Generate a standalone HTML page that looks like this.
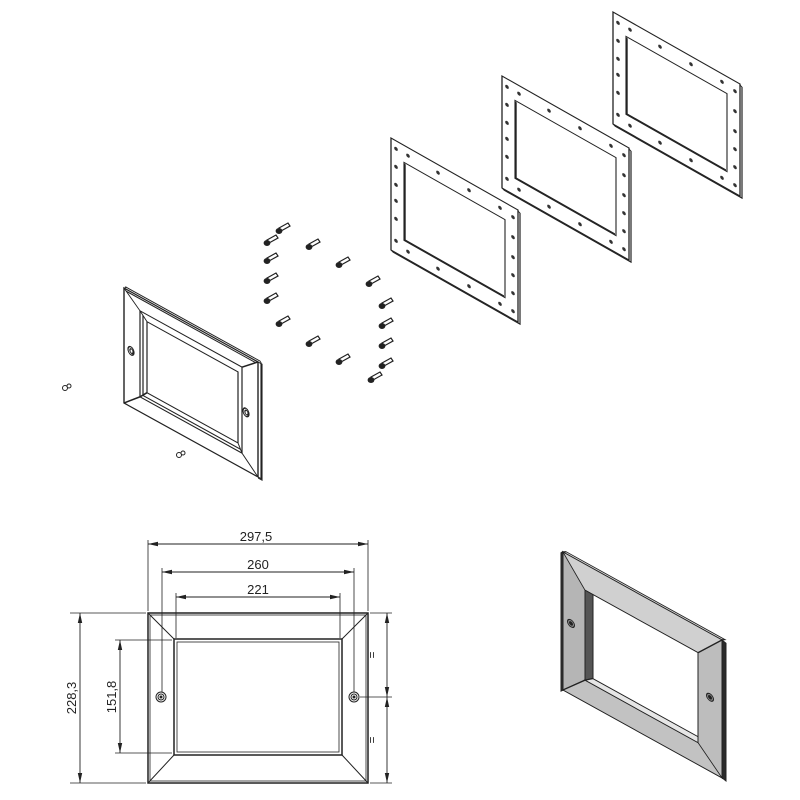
<!DOCTYPE html>
<html><head><meta charset="utf-8"><style>
html,body{margin:0;padding:0;background:#fff;}
svg{display:block;}
text{font-family:"Liberation Sans",sans-serif;fill:#222;}
</style></head><body>
<svg width="800" height="800" viewBox="0 0 800 800" xmlns="http://www.w3.org/2000/svg">
<defs>
  <marker id="ar" markerWidth="10" markerHeight="6" refX="10" refY="3" orient="auto-start-reverse" markerUnits="userSpaceOnUse">
    <path d="M0,0.8 L10,3 L0,5.2 Z" fill="#222"/>
  </marker>
  <g id="gasket">
    <path d="M0,0 L127,0 L127,112 L0,112 Z" fill="#fff" stroke="#222" stroke-width="1.3"/>
    <path d="M127,1 L129,2 L129,113 L2,113 L0,112" fill="none" stroke="#222" stroke-width="1.2"/>
    <path d="M13,17 L114,17 L114,95 L13,95 Z" fill="none" stroke="#222" stroke-width="1.1"/>
    <path d="M14,18 L14,94 L113,94" fill="none" stroke="#222" stroke-width="1.4"/>
    <g fill="#333">
      <circle cx="5" cy="8" r="1.8"/><circle cx="5" cy="26" r="1.8"/><circle cx="5" cy="44" r="1.8"/>
      <circle cx="5" cy="60" r="1.8"/><circle cx="5" cy="78" r="1.8"/><circle cx="5" cy="100" r="1.8"/>
      <circle cx="122" cy="10" r="1.8"/><circle cx="122" cy="30" r="1.8"/><circle cx="122" cy="50" r="1.8"/>
      <circle cx="122" cy="68" r="1.8"/><circle cx="122" cy="86" r="1.8"/><circle cx="122" cy="104" r="1.8"/>
      <circle cx="17" cy="8" r="1.8"/><circle cx="47" cy="8" r="1.8"/><circle cx="78" cy="8" r="1.8"/><circle cx="109" cy="8" r="1.8"/>
      <circle cx="17" cy="104" r="1.8"/><circle cx="47" cy="104" r="1.8"/><circle cx="78" cy="104" r="1.8"/><circle cx="109" cy="104" r="1.8"/>
    </g>
  </g>
  <g id="screw">
    <path d="M-1,-2 L8,-7 L10,-4 L1,1 Z" fill="#fff" stroke="#222" stroke-width="1.2"/>
    <ellipse cx="-1" cy="1" rx="3.4" ry="3" fill="#222"/>
  </g>
</defs>

<use href="#gasket" transform="matrix(1,0.567,0,1,613,12)"/>
<use href="#gasket" transform="matrix(1,0.567,0,1,502,76)"/>
<use href="#gasket" transform="matrix(1,0.567,0,1,391,138)"/>

<g>
<use href="#screw" x="280" y="230"/><use href="#screw" x="268" y="242"/><use href="#screw" x="268" y="260"/>
<use href="#screw" x="268" y="280"/><use href="#screw" x="268" y="300"/><use href="#screw" x="280" y="323"/>
<use href="#screw" x="310" y="246"/><use href="#screw" x="340" y="264"/><use href="#screw" x="370" y="283"/>
<use href="#screw" x="383" y="305"/><use href="#screw" x="383" y="325"/><use href="#screw" x="383" y="345"/>
<use href="#screw" x="383" y="365"/><use href="#screw" x="372" y="379"/><use href="#screw" x="340" y="361"/>
<use href="#screw" x="310" y="343"/>
</g>
<g fill="#fff" stroke="#222" stroke-width="1">
<circle cx="65" cy="388" r="2.5"/><circle cx="69" cy="386" r="2"/>
<circle cx="179" cy="455" r="2.5"/><circle cx="183" cy="453" r="2"/>
</g>

<g transform="matrix(1,0.552,0,1,124,288)" fill="none" stroke="#222" stroke-width="1.2">
  <path d="M0,0 L134,0 L134,115 L0,115 Z" fill="#fff" stroke-width="1.4"/>
  <path d="M1,-1 L2,-2 L136,-2 L137,-1 L137,115 L134,115" stroke-width="1.1"/>
  <path d="M134,0 L138,0 L138,116 L134,116" stroke-width="1.1"/>
  <path d="M2,2 L132,2"/>
  <path d="M0,0 L16,14 L118,14 L134,0 M16,14 L16,100 L118,100 L118,14 M0,115 L16,100 M134,115 L118,100"/>
  <path d="M16,14 L23,21 L114,21 L114,92 L23,92 L23,21 M16,100 L23,92 M118,100 L114,92"/>
  <path d="M19,17 L19,97 L116,97"/>
  <ellipse cx="7" cy="59" rx="3" ry="4"/><ellipse cx="7.5" cy="59" rx="1.6" ry="2.2"/>
  <ellipse cx="122" cy="57" rx="3" ry="4"/><ellipse cx="122.5" cy="57" rx="1.6" ry="2.2"/>
</g>

<g fill="none" stroke="#222">
  <rect x="148" y="613" width="220" height="170" stroke-width="1.5"/>
  <rect x="150" y="615" width="216" height="166" stroke-width="0.8"/>
  <rect x="174" y="639" width="168" height="116" stroke-width="1.5"/>
  <rect x="177" y="642" width="162" height="110" stroke-width="0.8"/>
  <path d="M148,613 L174,639 M368,613 L342,639 M148,783 L174,755 M368,783 L342,755" stroke-width="1"/>
  <circle cx="161" cy="697" r="5" stroke-width="1"/><circle cx="161" cy="697" r="3" stroke-width="1"/><circle cx="161" cy="697" r="1" fill="#222"/>
  <circle cx="354" cy="697" r="5" stroke-width="1"/><circle cx="354" cy="697" r="3" stroke-width="1"/><circle cx="354" cy="697" r="1" fill="#222"/>
  <g stroke-width="0.8">
    <path d="M148,540 L148,611 M368,540 L368,611 M162,568 L162,692 M354,568 L354,692 M176,593 L176,638 M340,593 L340,638"/>
    <path d="M70,613 L146,613 M70,783 L146,783 M115,640 L172,640 M115,753 L172,753"/>
    <path d="M370,613 L392,613 M360,697 L392,697 M370,783 L392,783"/>
  </g>
  <g stroke-width="0.9" marker-start="url(#ar)" marker-end="url(#ar)">
    <line x1="148" y1="544" x2="368" y2="544"/>
    <line x1="162" y1="572" x2="354" y2="572"/>
    <line x1="176" y1="597" x2="340" y2="597"/>
    <line x1="80" y1="613" x2="80" y2="783"/>
    <line x1="120" y1="640" x2="120" y2="753"/>
    <line x1="387" y1="613" x2="387" y2="697"/>
    <line x1="387" y1="697" x2="387" y2="783"/>
  </g>
</g>
<text x="256" y="541" font-size="13" text-anchor="middle">297,5</text>
<text x="258" y="569" font-size="13" text-anchor="middle">260</text>
<text x="258" y="594" font-size="13" text-anchor="middle">221</text>
<text transform="translate(76,698) rotate(-90)" font-size="13" text-anchor="middle">228,3</text>
<text transform="translate(116,697) rotate(-90)" font-size="13" text-anchor="middle">151,8</text>
<text transform="translate(376,655) rotate(-90)" font-size="12" text-anchor="middle">=</text>
<text transform="translate(376,740) rotate(-90)" font-size="12" text-anchor="middle">=</text>

<g transform="matrix(1,0.553,0,1,563,552)" stroke="#222" stroke-width="1">
  <path d="M-2,2 L0,0 L0,138 L-2,140 Z" fill="#333"/>
  <path d="M0,0 L159,0 L159,138 L0,138 Z" fill="#c9c9c9"/>
  <path d="M159,0 L163,1 L163,139 L159,138 Z" fill="#2a2a2a"/>
  <path d="M0,0 L3,-2 L162,-2 L159,0 Z" fill="#ddd"/>
  <path d="M0,0 L22,26 L22,116 L0,138 Z" fill="#b5b5b5"/>
  <path d="M159,0 L135,26 L135,116 L159,138 Z" fill="#bdbdbd"/>
  <path d="M0,0 L159,0 L135,26 L22,26 Z" fill="#d0d0d0"/>
  <path d="M0,138 L22,116 L135,116 L159,138 Z" fill="#c2c2c2"/>
  <path d="M22,26 L30,26 L30,110 L22,116 Z" fill="#555"/>
  <path d="M22,116 L30,110 L135,110 L135,116 Z" fill="#e6e6e6"/>
  <path d="M30,26 L135,26 L135,110 L30,110 Z" fill="#fff"/>
  <circle cx="8" cy="67" r="3.5" fill="#888"/><circle cx="8" cy="67" r="1.5" fill="#222"/>
  <circle cx="147" cy="64" r="3.5" fill="#888"/><circle cx="147" cy="64" r="1.5" fill="#222"/>
</g>
</svg>
</body></html>
